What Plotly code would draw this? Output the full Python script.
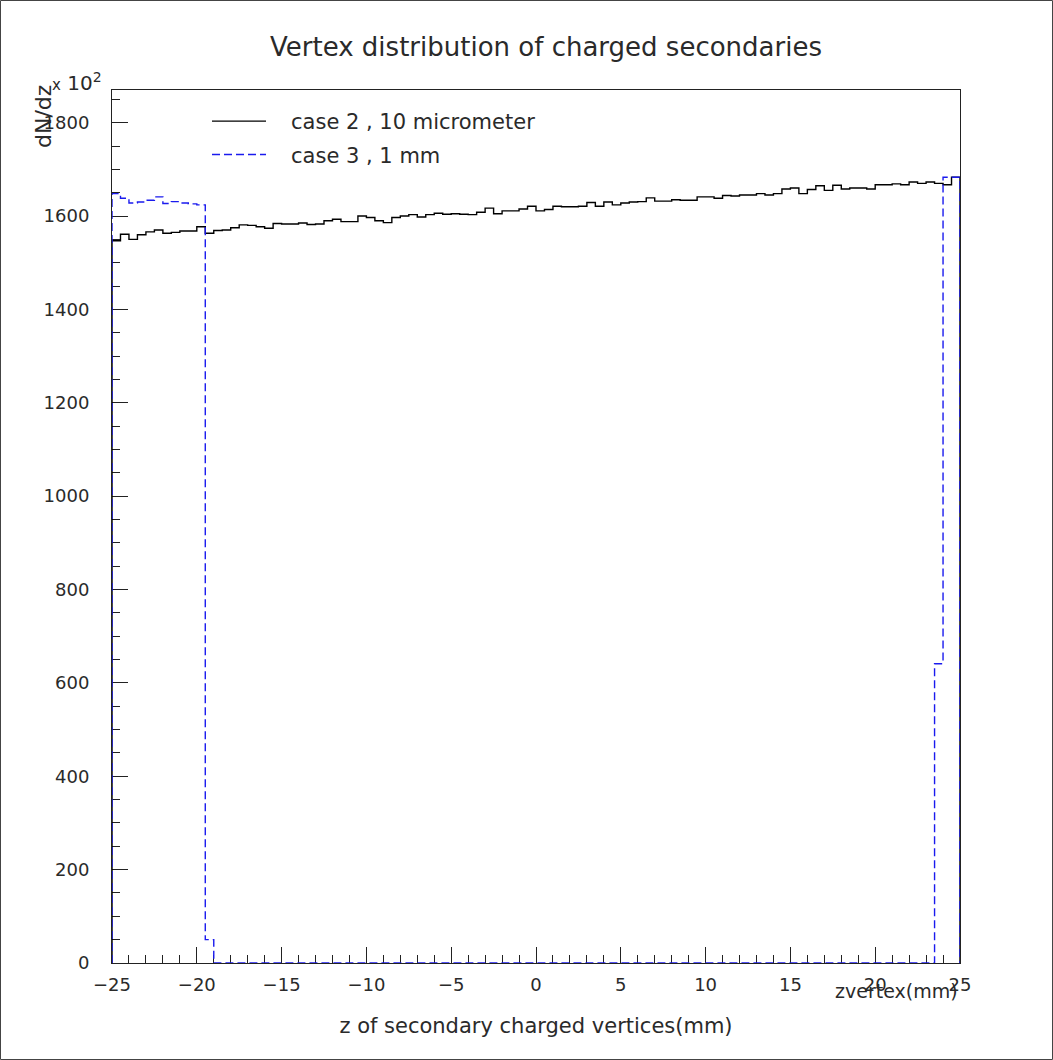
import numpy as np
import plotly.graph_objects as go

# ---- data ----
X_MIN, X_MAX, N_BINS = -25.0, 25.0, 100
bin_edges = list(np.linspace(X_MIN, X_MAX, N_BINS + 1))

case2_values = [
    1547, 1561, 1550, 1560, 1566, 1570, 1563, 1565, 1568, 1568,
    1577, 1563, 1569, 1570, 1575, 1581, 1580, 1577, 1574, 1584,
    1583, 1583, 1585, 1582, 1583, 1590, 1593, 1588, 1588, 1600,
    1597, 1590, 1586, 1597, 1600, 1603, 1598, 1603, 1606, 1604,
    1605, 1604, 1603, 1608, 1617, 1605, 1611, 1611, 1615, 1621,
    1611, 1614, 1621, 1620, 1620, 1621, 1629, 1621, 1630, 1624,
    1628, 1630, 1631, 1639, 1632, 1632, 1635, 1634, 1634, 1641,
    1641, 1638, 1644, 1643, 1645, 1645, 1648, 1645, 1648, 1658,
    1660, 1648, 1657, 1665, 1655, 1666, 1658, 1660, 1660, 1658,
    1667, 1667, 1669, 1667, 1673, 1670, 1673, 1670, 1667, 1683,
]

case3_values = [
    1648, 1638, 1628, 1630, 1634, 1641, 1627, 1631, 1628, 1626,
    1624, 50, 0, 0, 0, 0, 0, 0, 0, 0,
    0, 0, 0, 0, 0, 0, 0, 0, 0, 0,
    0, 0, 0, 0, 0, 0, 0, 0, 0, 0,
    0, 0, 0, 0, 0, 0, 0, 0, 0, 0,
    0, 0, 0, 0, 0, 0, 0, 0, 0, 0,
    0, 0, 0, 0, 0, 0, 0, 0, 0, 0,
    0, 0, 0, 0, 0, 0, 0, 0, 0, 0,
    0, 0, 0, 0, 0, 0, 0, 0, 0, 0,
    0, 0, 0, 0, 0, 0, 0, 641, 1683, 1683,
]

series_names = ["case 2 , 10 micrometer", "case 3 , 1 mm"]
title_text = "Vertex distribution of charged secondaries"
x_title = "z of secondary charged vertices(mm)"
y_tick_vals = [0, 200, 400, 600, 800, 1000, 1200, 1400, 1600, 1800]
x_tick_vals = [-25, -20, -15, -10, -5, 0, 5, 10, 15, 20, 25]


def step_outline(edges, values):
    xs = [edges[0]] + list(edges) + [edges[-1]]
    ys = [0] + list(values) + [values[-1], 0]
    return xs, ys


FONT = "DejaVu Sans"
TXT = "#2a2a2a"
PAD = "\u00a0\u00a0\u00a0"

fig = go.Figure()
x2, y2 = step_outline(bin_edges, case2_values)
fig.add_trace(go.Scatter(
    x=x2, y=y2, mode="lines", line=dict(shape="hv", color="black", width=1.4),
    name=PAD + series_names[0], legendgroup="a",
))
x3, y3 = step_outline(bin_edges, case3_values)
fig.add_trace(go.Scatter(
    x=x3, y=y3, mode="lines", line=dict(shape="hv", color="#1a1aee", width=1.4, dash="8px,4px"),
    name=PAD + series_names[1], legendgroup="b",
))

W, H = 1053, 1060
L, R, T, B = 112, 93, 90, 97
pw, ph = W - L - R, H - T - B

fig.update_layout(
    width=W, height=H,
    margin=dict(l=L, r=R, t=T, b=B, autoexpand=False),
    paper_bgcolor="white", plot_bgcolor="white",
    font=dict(family=FONT, color=TXT, size=18),
    title=dict(text=title_text, x=(546 - L) / pw, xref="paper", xanchor="center",
               y=1 - 47 / H, yref="container", yanchor="middle",
               font=dict(size=26, family=FONT, color=TXT)),
    showlegend=True,
    legend=dict(x=(207 - L) / pw, y=(H - B - 101) / ph, xanchor="left", yanchor="top",
                bgcolor="rgba(0,0,0,0)", font=dict(size=21, family=FONT, color=TXT),
                itemwidth=54, tracegroupgap=3),
    xaxis=dict(range=[X_MIN, X_MAX], tickvals=x_tick_vals, ticks="inside", ticklen=16,
               tickwidth=1, tickcolor="#222", showline=True, linecolor="#222", linewidth=1,
               mirror=True, showgrid=False, zeroline=False, layer="below traces",
               minor=dict(ticks="inside", ticklen=8, dtick=1, tickcolor="#222", showgrid=False),
               ticklabelstandoff=5,
               title=dict(text=x_title, standoff=24, font=dict(size=21, family=FONT, color=TXT))),
    yaxis=dict(range=[0, 1870], tickvals=y_tick_vals, ticks="inside", ticklen=16,
               tickwidth=1, tickcolor="#222", showline=True, linecolor="#222", linewidth=1,
               mirror=True, showgrid=False, zeroline=False, layer="below traces",
               minor=dict(ticks="inside", ticklen=8, dtick=50, tickcolor="#222", showgrid=False),
               ticklabelstandoff=18),
    annotations=[
        dict(text="zvertex(mm)", x=X_MAX, xref="x", xanchor="right",
             y=(H - B - 991) / ph, yref="paper", yanchor="middle", showarrow=False,
             font=dict(size=19, family=FONT, color=TXT)),
        dict(text="dN/dz", textangle=-90, x=(43 - L) / pw, xref="paper", xanchor="center",
             y=(H - B - 117) / ph, yref="paper", yanchor="middle", showarrow=False,
             font=dict(size=22, family=FONT, color=TXT)),
        dict(text="<span style='font-size:15px'>x</span> 10<sup>2</sup>", x=(50 - L) / pw,
             xref="paper", xanchor="left", y=(H - B - 82) / ph, yref="paper",
             yanchor="middle", showarrow=False, font=dict(size=20, family=FONT, color=TXT)),
    ],
    shapes=[
        dict(type="rect", xref="paper", yref="paper",
             x0=(0.5 - L) / pw, x1=(W - 0.5 - L) / pw,
             y0=(H - B - (H - 0.5)) / ph, y1=(H - B - 0.5) / ph,
             line=dict(color="#444", width=1), layer="below"),
    ],
)

fig.write_html(
    "out.html",
    config={"displayModeBar": False},
    post_script="document.body.style.margin='0';document.body.style.overflow='hidden';",
)
